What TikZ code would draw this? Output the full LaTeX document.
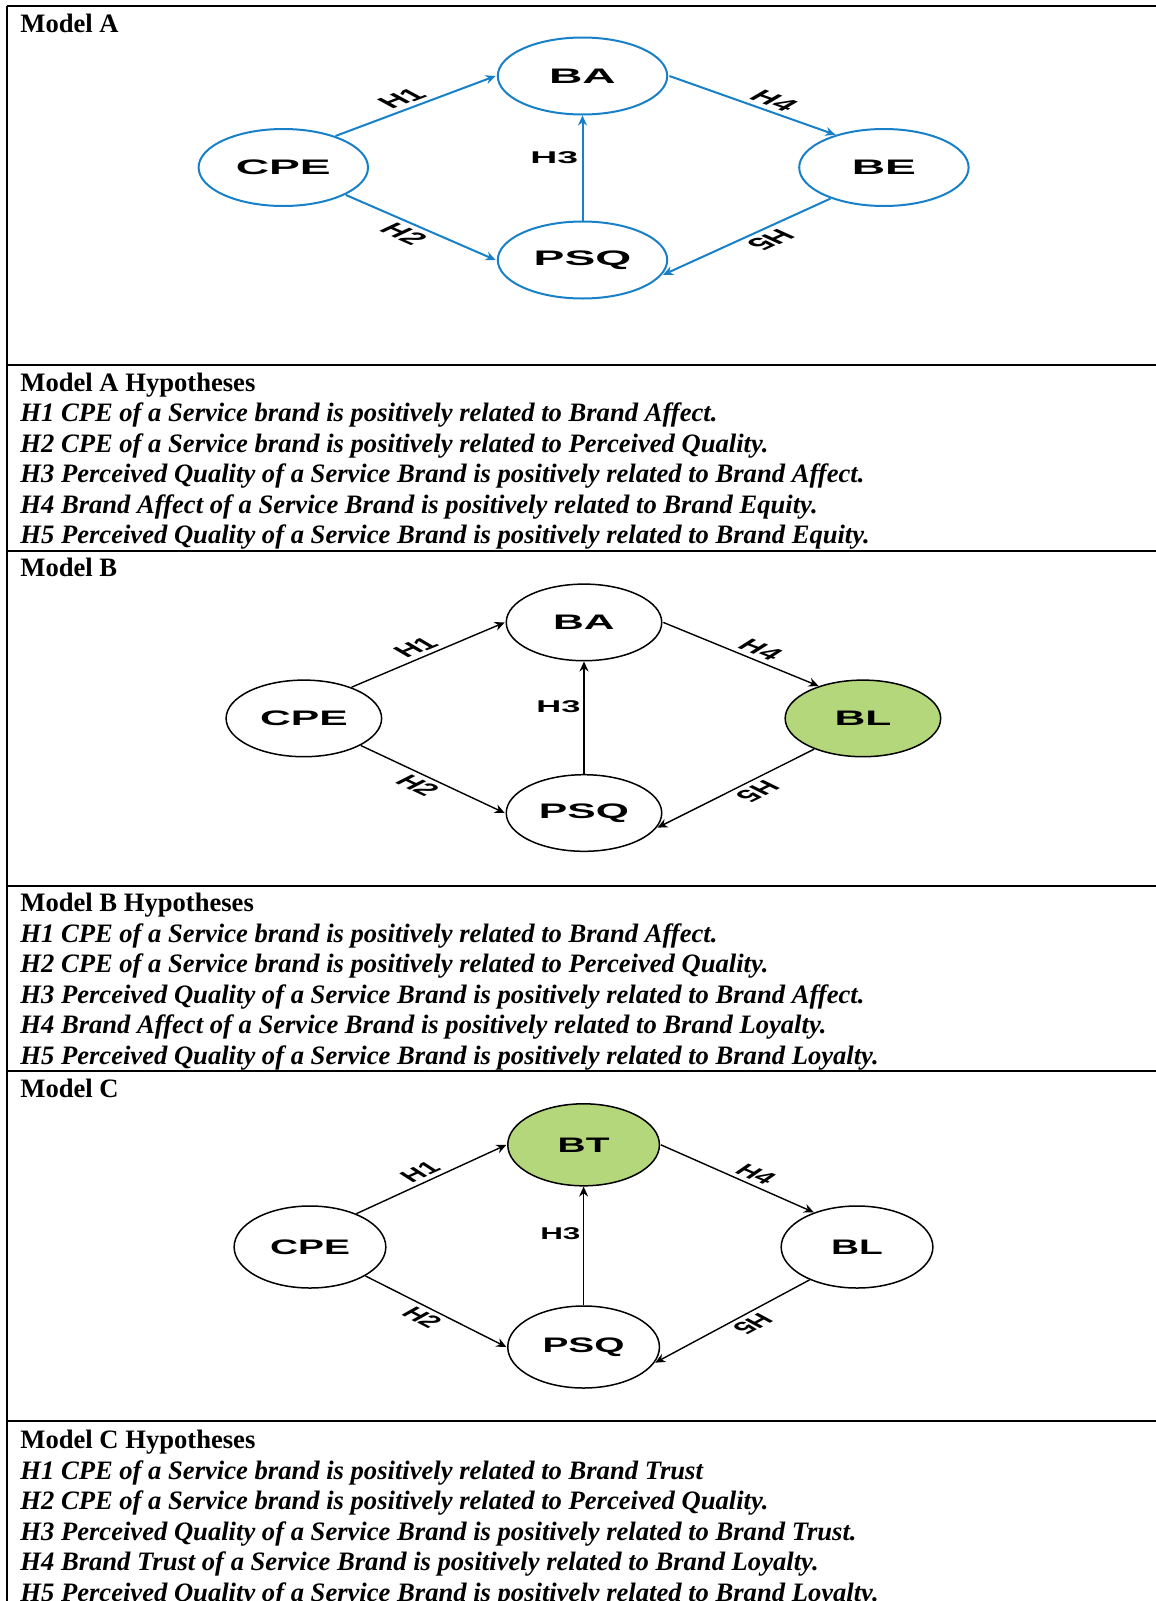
\documentclass[tikz,border=0pt]{standalone}
\usepackage{fontspec}
\setmainfont{Liberation Serif}
\setsansfont{Liberation Sans}
\usetikzlibrary{arrows.meta}

\definecolor{modelblue}{RGB}{23,128,200}
\definecolor{modelgreen}{RGB}{181,215,124}

\tikzset{
  construct/.style={circle, draw, inner sep=0pt, text=black, font=\sffamily\bfseries\fontsize{10.5}{12}\selectfont},
  hyplabel/.style={inner sep=1.5pt, text=black, font=\sffamily\bfseries\fontsize{8.5}{10}\selectfont},
  hypline/.style={-{Stealth[length=5pt,width=4.5pt]}},
  rowhead/.style={anchor=base west, inner sep=0pt, font=\bfseries\fontsize{13.3}{15}\selectfont},
  rowtext/.style={anchor=base west, inner sep=0pt, font=\bfseries\itshape\fontsize{13.3}{15}\selectfont},
  tablerule/.style={line width=1pt}
}

\begin{document}
\begin{tikzpicture}[x=0.5pt,y=-0.5pt]
\useasboundingbox (0,0) rectangle (1156,1601);

%Table rules
\draw[tablerule] (7,5.5) -- (7,1601);
\draw[tablerule] (6.5,6) -- (1156,6);
\draw[tablerule] (6.5,365) -- (1156,365);
\draw[tablerule] (6.5,551) -- (1156,551);
\draw[tablerule] (6.5,885.5) -- (1156,885.5);
\draw[tablerule] (6.5,1071) -- (1156,1071);
\draw[tablerule] (6.5,1421) -- (1156,1421);

% Model A
\node[rowhead] (headA) at (20,32) {Model A};
\begin{scope}[shift={(582.5,167.5)}, xscale=2.2, transform shape]
  \node[construct, draw=modelblue, line width=1pt, minimum size=38.5pt] (cpeA) at (-136,0) {CPE};
  \node[construct, draw=modelblue, line width=1pt, minimum size=38.5pt] (baA) at (0,-91.5) {BA};
  \node[construct, draw=modelblue, line width=1pt, minimum size=38.5pt] (psqA) at (0,92.5) {PSQ};
  \node[construct, draw=modelblue, line width=1pt, minimum size=38.5pt] (beA) at (137,0) {BE};
  \draw[hypline, modelblue, line width=1pt] (cpeA.53) -- node[hyplabel, pos=.5, above, rotate=40] {H1} (baA.west);
  \draw[hypline, modelblue, line width=1pt] (cpeA.-44) -- node[hyplabel, pos=.49, below, rotate=-44] {H2} (psqA.west);
  \draw[hypline, modelblue, line width=1pt] (psqA.north) -- node[hyplabel, inner sep=0.5pt, pos=.6, left] {H3} (baA.south);
  \draw[hypline, modelblue, line width=1pt] (baA.east) -- node[hyplabel, pos=.55, above, rotate=-38] {H4} (beA.124);
  \draw[hypline, modelblue, line width=1pt] (beA.232) -- node[hyplabel, pos=.45, above, rotate=225] {H5} (psqA.-22);
\end{scope}

% Model A hypotheses
\node[rowhead] (hypheadA) at (20,391.5) {Model A Hypotheses};
\node[rowtext] (hAone) at (20,421.5) {H1 CPE of a Service brand is positively related to Brand Affect.};
\node[rowtext] (hAtwo) at (20,452) {H2 CPE of a Service brand is positively related to Perceived Quality.};
\node[rowtext] (hAthree) at (20,482.5) {H3 Perceived Quality of a Service Brand is positively related to Brand Affect.};
\node[rowtext] (hAfour) at (20,513) {H4 Brand Affect of a Service Brand is positively related to Brand Equity.};
\node[rowtext] (hAfive) at (20,543.5) {H5 Perceived Quality of a Service Brand is positively related to Brand Equity.};

% Model B
\node[rowhead] (headB) at (20,576.5) {Model B};
\begin{scope}[shift={(584,718.4)}, xscale=2.03, transform shape]
  \node[construct, line width=0.75pt, minimum size=38.3pt] (cpeB) at (-138,0) {CPE};
  \node[construct, line width=0.75pt, minimum size=38.3pt] (baB) at (0,-96) {BA};
  \node[construct, line width=0.75pt, minimum size=38.3pt] (psqB) at (0,94.6) {PSQ};
  \node[construct, line width=0.75pt, minimum size=38.3pt, fill=modelgreen] (blB) at (137.4,0) {BL};
  \draw[hypline, line width=0.7pt] (cpeB.53) -- node[hyplabel, pos=.5, above, rotate=40] {H1} (baB.west);
  \draw[hypline, line width=0.7pt] (cpeB.-44) -- node[hyplabel, pos=.49, below, rotate=-44] {H2} (psqB.west);
  \draw[hypline, line width=0.7pt] (psqB.north) -- node[hyplabel, inner sep=0.5pt, pos=.6, left] {H3} (baB.south);
  \draw[hypline, line width=0.7pt] (baB.east) -- node[hyplabel, pos=.55, above, rotate=-38] {H4} (blB.124);
  \draw[hypline, line width=0.7pt] (blB.232) -- node[hyplabel, pos=.45, above, rotate=225] {H5} (psqB.-22);
\end{scope}

% Model B hypotheses
\node[rowhead] (hypheadB) at (20,911.5) {Model B Hypotheses};
\node[rowtext] (hBone) at (20,942) {H1 CPE of a Service brand is positively related to Brand Affect.};
\node[rowtext] (hBtwo) at (20,972.5) {H2 CPE of a Service brand is positively related to Perceived Quality.};
\node[rowtext] (hBthree) at (20,1003) {H3 Perceived Quality of a Service Brand is positively related to Brand Affect.};
\node[rowtext] (hBfour) at (20,1033.5) {H4 Brand Affect of a Service Brand is positively related to Brand Loyalty.};
\node[rowtext] (hBfive) at (20,1064.5) {H5 Perceived Quality of a Service Brand is positively related to Brand Loyalty.};

% Model C
\node[rowhead] (headC) at (20,1097.5) {Model C};
\begin{scope}[shift={(583.6,1247)}, xscale=1.85, transform shape]
  \node[construct, line width=0.75pt, minimum size=41pt] (cpeC) at (-147.9,0) {CPE};
  \node[construct, line width=0.75pt, minimum size=41pt, fill=modelgreen] (btC) at (0,-102.2) {BT};
  \node[construct, line width=0.75pt, minimum size=41pt] (psqC) at (0,100) {PSQ};
  \node[construct, line width=0.75pt, minimum size=41pt] (blC) at (147.8,0) {BL};
  \draw[hypline, line width=0.7pt] (cpeC.53) -- node[hyplabel, pos=.5, above, rotate=40] {H1} (btC.west);
  \draw[hypline, line width=0.7pt] (cpeC.-44) -- node[hyplabel, pos=.49, below, rotate=-44] {H2} (psqC.west);
  \draw[hypline, line width=0.7pt] (psqC.north) -- node[hyplabel, inner sep=0.5pt, pos=.6, left] {H3} (btC.south);
  \draw[hypline, line width=0.7pt] (btC.east) -- node[hyplabel, pos=.55, above, rotate=-38] {H4} (blC.124);
  \draw[hypline, line width=0.7pt] (blC.232) -- node[hyplabel, pos=.45, above, rotate=225] {H5} (psqC.-22);
\end{scope}

% Model C hypotheses
\node[rowhead] (hypheadC) at (20,1448.5) {Model C Hypotheses};
\node[rowtext] (hCone) at (20,1479) {H1 CPE of a Service brand is positively related to Brand Trust};
\node[rowtext] (hCtwo) at (20,1509.5) {H2 CPE of a Service brand is positively related to Perceived Quality.};
\node[rowtext] (hCthree) at (20,1540) {H3 Perceived Quality of a Service Brand is positively related to Brand Trust.};
\node[rowtext] (hCfour) at (20,1570.5) {H4 Brand Trust of a Service Brand is positively related to Brand Loyalty.};
\node[rowtext] (hCfive) at (20,1601) {H5 Perceived Quality of a Service Brand is positively related to Brand Loyalty.};

\end{tikzpicture}
\end{document}
